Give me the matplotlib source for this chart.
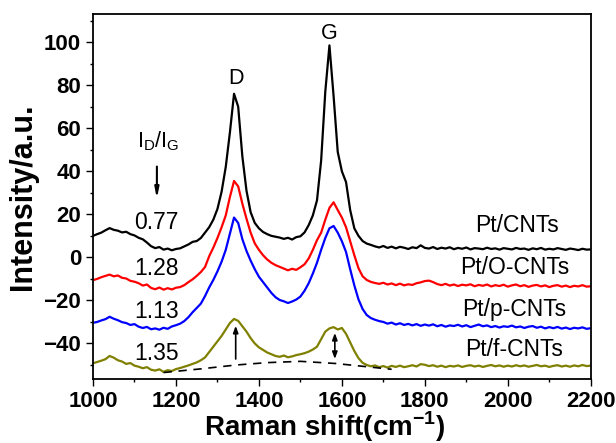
import numpy as np
import matplotlib.pyplot as plt

plt.rcParams['font.family'] = ['Liberation Sans', 'DejaVu Sans']
plt.rcParams['mathtext.fontset'] = 'custom'
plt.rcParams['mathtext.rm'] = 'Liberation Sans'
plt.rcParams['mathtext.bf'] = 'Liberation Sans:bold'

# Raman shift grid, cm-1
shift = np.arange(1000, 2201, 10)

# Pt/CNTs
pt_cnt = [10.0, 10.8, 11.5, 12.6, 13.6, 12.8, 12.4, 11.6, 11.9, 10.8,
          10.2, 9.1, 8.4, 6.9, 5.2, 4.3, 4.8, 3.6, 4.1, 3.3,
          3.9, 4.2, 5.1, 6.0, 7.2, 7.6, 9.0, 11.5, 14.0, 17.5,
          22.5, 30.5, 42.0, 58.0, 76.0, 70.0, 47.0, 31.0, 21.0, 16.0,
          13.5, 11.8, 10.8, 10.0, 9.6, 9.2, 8.6, 9.1, 8.3, 9.4,
          9.8, 11.6, 15.0, 19.5, 26.5, 45.0, 77.0, 98.5, 75.0, 49.0,
          40.0, 35.0, 22.0, 13.5, 10.0, 7.6, 6.4, 5.8, 5.1, 4.6,
          5.3, 4.4, 5.0, 4.2, 4.9, 4.5, 3.9, 4.7, 4.3, 5.6,
          4.4, 4.1, 4.8, 3.9, 4.5, 4.1, 4.7, 3.8, 4.4, 4.0,
          4.6, 3.7, 4.3, 4.1, 3.8, 4.5, 3.9, 4.2, 3.6, 4.3,
          4.0, 3.7, 4.4, 3.9, 4.1, 3.5, 4.2, 3.8, 4.4, 3.6,
          4.0, 3.7, 4.3, 3.9, 3.5, 4.1, 3.8, 3.4, 4.0, 3.6, 3.7]

# Pt/O-CNTs
pt_ocnt = [-10.6, -10.0, -9.2, -8.6, -8.0, -8.8, -8.4, -9.5, -9.8, -10.9,
           -11.3, -12.0, -13.1, -12.6, -14.2, -14.8, -14.0, -15.0, -14.3, -14.9,
           -14.1, -13.8, -12.9, -11.5, -10.2, -8.6, -6.8, -4.5, 0.5, 4.5,
           9.0, 14.0, 19.5, 28.0, 35.5, 33.0, 25.0, 18.0, 11.5, 6.5,
           3.5, 1.0, -1.0, -2.5, -3.6, -4.4, -5.2, -6.0, -5.3, -5.8,
           -4.6, -3.2, -0.5, 3.5, 8.0, 11.5, 17.5, 23.0, 25.6, 22.0,
           18.5, 14.0, 7.5, 1.0, -5.0, -8.8, -10.5, -11.4, -11.9, -12.3,
           -11.8, -12.6, -12.1, -12.9, -12.2, -13.0, -12.5, -12.8, -12.0, -11.6,
           -11.0, -10.8, -11.5, -12.4, -12.9, -12.3, -13.1, -12.6, -13.3, -12.7,
           -13.0, -12.5, -13.4, -12.8, -13.2, -12.6, -13.5, -12.9, -13.3, -12.7,
           -13.6, -13.0, -12.6, -13.4, -12.9, -13.7, -13.1, -12.8, -13.5, -13.0,
           -13.8, -13.2, -12.9, -13.6, -13.1, -13.8, -13.2, -13.5, -12.9, -13.6, -13.4]

# Pt/p-CNTs
pt_pcnt = [-30.4, -30.0, -29.3, -28.7, -27.6, -28.5, -29.2, -30.1, -30.5, -31.4,
           -31.0, -32.2, -32.8, -32.3, -33.4, -33.0, -33.6, -32.7, -33.2, -32.1,
           -31.5, -30.8, -29.6, -27.8, -25.5, -23.5, -21.5, -18.0, -14.0, -10.5,
           -6.5, -2.0, 3.5, 11.0, 18.5, 16.0, 8.5, 3.0, -1.5, -5.5,
           -9.0, -11.5, -14.0, -16.5, -18.5, -19.8, -20.4, -21.2, -20.5, -19.6,
           -18.2, -15.5, -12.0, -7.5, -2.5, 3.5, 9.0, 13.5, 14.6, 11.5,
           7.5, 2.5, -5.5, -13.0, -19.5, -24.0, -26.8, -28.2, -29.0, -29.6,
           -30.0, -30.8, -30.3, -31.2, -30.6, -31.4, -30.9, -31.6, -31.0, -31.8,
           -31.2, -31.7, -31.1, -32.0, -31.4, -32.2, -31.6, -31.9, -31.3, -32.1,
           -31.5, -32.4, -31.8, -31.2, -32.0, -31.6, -32.4, -31.9, -32.6, -32.0,
           -32.3, -31.7, -32.5, -32.1, -32.8, -32.2, -31.9, -32.7, -32.2, -33.0,
           -32.4, -32.9, -32.3, -33.1, -32.6, -33.3, -32.7, -33.0, -32.5, -33.2, -32.9]

# Pt/f-CNTs
pt_fcnt = [-49.2, -48.6, -48.0, -47.3, -45.8, -46.6, -47.8, -48.4, -49.5, -49.1,
           -50.3, -50.8, -51.5, -51.0, -52.2, -52.6, -52.0, -53.2, -52.4, -52.8,
           -51.9, -51.4, -50.8, -50.2, -49.5, -48.8, -47.8, -46.5, -44.0, -41.5,
           -39.0, -36.5, -33.5, -30.5, -28.6, -29.5, -32.0, -34.5, -37.5, -40.0,
           -41.8, -43.0, -44.2, -45.0, -45.8, -46.2, -45.6, -46.4, -46.0, -45.4,
           -45.0, -44.5, -43.8, -42.8, -41.5, -38.0, -34.5, -33.0, -32.4, -33.5,
           -32.8, -35.5, -39.5, -43.5, -46.8, -49.0, -50.0, -50.6, -50.2, -51.0,
           -50.5, -51.2, -50.4, -50.9, -50.3, -51.0, -50.6, -50.1, -50.7, -49.6,
           -49.9, -50.5, -50.1, -50.8, -50.3, -51.0, -50.4, -50.7, -50.2, -50.9,
           -50.4, -50.1, -50.7, -50.3, -50.9, -50.4, -50.0, -50.6, -50.2, -50.8,
           -50.3, -50.7, -50.1, -50.6, -50.2, -50.8, -50.4, -50.0, -50.6, -50.3,
           -50.9, -50.4, -50.1, -50.7, -50.3, -50.8, -50.2, -50.6, -50.0, -50.5, -50.3]

series = [pt_cnt, pt_ocnt, pt_pcnt, pt_fcnt]
names = ['Pt/CNTs', 'Pt/O-CNTs', 'Pt/p-CNTs', 'Pt/f-CNTs']
colors = ['black', 'red', 'blue', '#808000']
ratios = ['0.77', '1.28', '1.13', '1.35']
ratio_y = [16.3, -5.1, -25.0, -44.6]
name_x = [2023, 2017, 2015, 2015]
name_y = [14.8, -4.8, -24.2, -43.0]

# background line under Pt/f-CNTs peaks
base_x = [1170, 1260, 1345, 1420, 1500, 1585, 1650, 1720]
base_y = [-53.5, -51.8, -50.0, -48.9, -48.3, -49.3, -50.6, -52.0]

fig = plt.figure(figsize=(6.16, 4.43), dpi=100)
ax = fig.add_axes([0.151, 0.1445, 0.808, 0.8235])

for y, c in zip(series, colors):
    ax.plot(shift, y, color=c, lw=1.6)

ax.plot(base_x, base_y, color='black', lw=1.2, ls=(0, (5, 4)))

# peak height arrows
ax.annotate('', xy=(1344, -30.5), xytext=(1344, -48.5),
            arrowprops=dict(arrowstyle='-|>,head_length=0.4,head_width=0.15', color='black', lw=1.2))
ax.annotate('', xy=(1583, -33.8), xytext=(1583, -48.5),
            arrowprops=dict(arrowstyle='<|-|>,head_length=0.4,head_width=0.15', color='black', lw=1.2))

for r, ry in zip(ratios, ratio_y):
    ax.text(1153, ry, r, fontsize=16.5, ha='center', va='center')
for n, nx, ny in zip(names, name_x, name_y):
    ax.text(nx, ny, n, fontsize=16.5, ha='center', va='center')

ax.text(1345, 83, 'D', fontsize=15.5, ha='center', va='center')
ax.text(1570, 104, 'G', fontsize=15.5, ha='center', va='center')
ax.text(1158, 54, r'I$_\mathregular{D}$/I$_\mathregular{G}$', fontsize=15.5, ha='center', va='center')
ax.annotate('', xy=(1154, 26.0), xytext=(1154, 43.5),
            arrowprops=dict(arrowstyle='-|>,head_length=0.6,head_width=0.12', color='black', lw=1.5))

ax.set_xlim(1000, 2200)
ax.set_ylim(-56.5, 113)
ax.set_xticks(np.arange(1000, 2201, 200))
ax.set_xticks(np.arange(1000, 2201, 100), minor=True)
ax.set_yticks(np.arange(-40, 101, 20))
ax.set_yticks(np.arange(-50, 111, 10), minor=True)
ax.tick_params(which='both', direction='out', top=False, right=False, width=1.0)
ax.tick_params(which='major', length=5, labelsize=16)
ax.tick_params(which='minor', length=2.5)
for lab in ax.get_xticklabels() + ax.get_yticklabels():
    lab.set_fontweight('bold')
for s in ax.spines.values():
    s.set_linewidth(1.3)

ax.set_xlabel(r'Raman shift(cm$^{\mathbf{-1}}$)', fontsize=20, fontweight='bold', labelpad=0)
ax.xaxis.set_label_coords(0.465, -0.085)
ax.set_ylabel('Intensity/a.u.', fontsize=22, fontweight='bold', labelpad=4)

fig.savefig('out.png', dpi=100)
